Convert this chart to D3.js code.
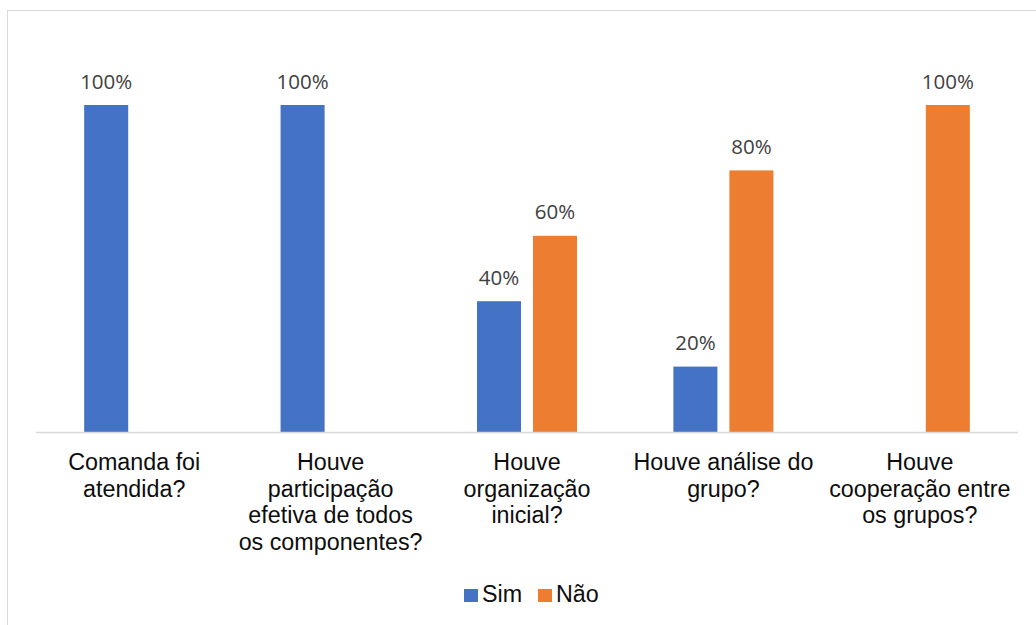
<!DOCTYPE html>
<html>
<head>
<meta charset="utf-8">
<script src="https://cdn.jsdelivr.net/npm/d3@7"></script>
<style>
  body { margin: 0; background: #fff; }
</style>
</head>
<body>
<script>
// Data
let categories = [
  ["Comanda foi", "atendida?"],
  ["Houve", "participação", "efetiva de todos", "os componentes?"],
  ["Houve", "organização", "inicial?"],
  ["Houve análise do", "grupo?"],
  ["Houve", "cooperação entre", "os grupos?"]
];
let seriesNames = ["Sim", "Não"];
let simValues = [1.0, 1.0, 0.4, 0.2, null];
let naoValues = [null, null, 0.6, 0.8, 1.0];
let colors = ["#4472C4", "#ED7D31"];

function drawChart() {
  let width = 1036;
  let height = 625;
  let margin = {left: 36, right: 18, top: 105, bottom: 193};

  let svg = d3.select("body")
    .append("svg")
    .attr("width", width)
    .attr("height", height);

  // chart border (only top and left visible in frame)
  svg.append("rect")
    .attr("x", 7.5)
    .attr("y", 10.5)
    .attr("width", 1100)
    .attr("height", 700)
    .attr("fill", "none")
    .attr("stroke", "#d9d9d9");

  let x = d3.scaleBand()
    .domain(d3.range(categories.length))
    .range([margin.left, width - margin.right]);

  let xInner = d3.scaleBand()
    .domain(seriesNames)
    .range([0, x.bandwidth()])
    .paddingInner(0.214)
    .paddingOuter(0.86);

  let y = d3.scaleLinear()
    .domain([0, 1])
    .range([height - margin.bottom, margin.top]);

  let rows = [];
  categories.forEach((c, i) => {
    rows.push({i, s: "Sim", v: simValues[i]});
    rows.push({i, s: "Não", v: naoValues[i]});
  });
  rows = rows.filter(d => d.v != null);

  svg.selectAll("rect.bar")
    .data(rows)
    .enter()
    .append("rect")
    .attr("class", "bar")
    .attr("x", d => x(d.i) + xInner(d.s))
    .attr("width", xInner.bandwidth())
    .attr("y", d => y(d.v))
    .attr("height", d => y(0) - y(d.v))
    .attr("fill", d => colors[seriesNames.indexOf(d.s)]);

  // data labels
  svg.selectAll("text.lbl")
    .data(rows)
    .enter()
    .append("text")
    .attr("class", "lbl")
    .attr("x", d => x(d.i) + xInner(d.s) + xInner.bandwidth() / 2)
    .attr("y", d => y(d.v) - 16.5)
    .attr("text-anchor", "middle")
    .style("font-family", "'Open Sans', sans-serif")
    .style("font-size", "20.5px")
    .style("fill", "#404040")
    .text(d => Math.round(d.v * 100) + "%");

  // axis baseline
  svg.append("line")
    .attr("x1", x.range()[0])
    .attr("x2", x.range()[1])
    .attr("y1", y(0) + 0.5)
    .attr("y2", y(0) + 0.5)
    .attr("stroke", "#d9d9d9")
    .attr("stroke-width", 1.5);

  // category labels
  let catG = svg.selectAll("text.cat")
    .data(categories)
    .enter()
    .append("text")
    .attr("class", "cat")
    .attr("text-anchor", "middle")
    .style("font-family", "'Liberation Sans', Arial, sans-serif")
    .style("font-size", "23.3px")
    .style("fill", "#0d0d0d");
  catG.each(function(lines, i) {
    d3.select(this).selectAll("tspan")
      .data(lines)
      .enter()
      .append("tspan")
      .attr("x", x(i) + x.bandwidth() / 2)
      .attr("y", (d, k) => 470 + k * 26.7)
      .text(d => d);
  });

  // legend
  let legend = svg.append("g");
  let legendX = [464, 538];
  seriesNames.forEach((s, k) => {
    legend.append("rect")
      .attr("x", legendX[k])
      .attr("y", 589)
      .attr("width", 14)
      .attr("height", 13)
      .attr("fill", colors[k]);
    legend.append("text")
      .attr("x", legendX[k] + 18)
      .attr("y", 602)
      .style("font-family", "'Liberation Sans', Arial, sans-serif")
      .style("font-size", "23.3px")
      .style("fill", "#0d0d0d")
      .text(s);
  });
}

drawChart();
</script>
</body>
</html>
